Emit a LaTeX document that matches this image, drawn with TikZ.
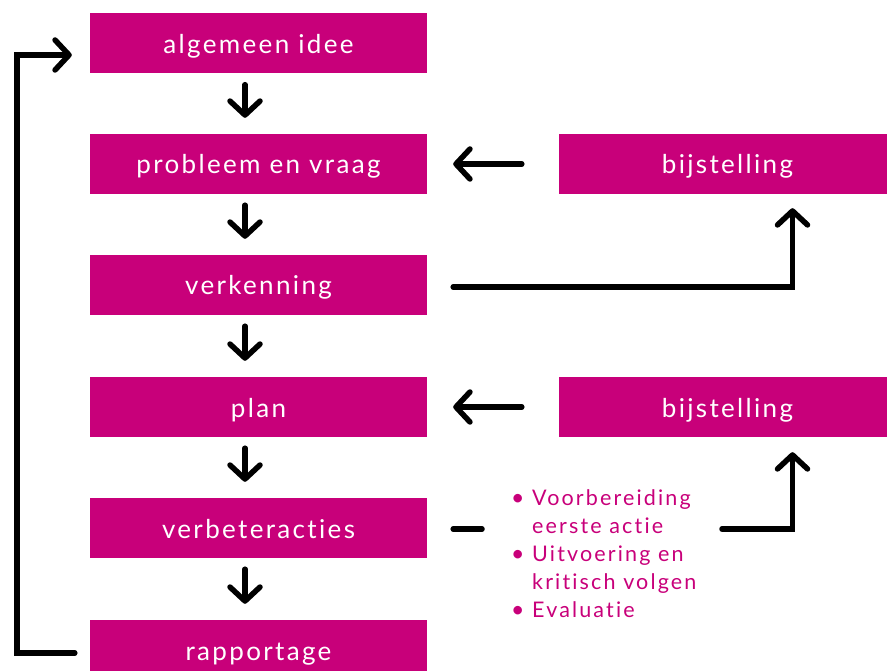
\documentclass[tikz,border=0pt]{standalone}
\usepackage{fontspec}
\setmainfont{Lato}
\newfontfamily\boxfont[LetterSpace=9, Ligatures=NoCommon]{Lato}
\newfontfamily\lijstfont[LetterSpace=10, Ligatures=NoCommon]{Lato}
\usepackage{tikz}
\usetikzlibrary{arrows.meta}
\definecolor{paars}{RGB}{200,0,122}
\tikzset{
    stap/.style={fill=paars, text=white, minimum width=337pt, minimum height=60pt, inner sep=0pt, text height=20pt, text depth=0pt, font=\boxfont\fontsize{26}{30}\selectfont},
    lijn/.style={line width=5.5pt, line cap=round, line join=miter},
    pijl/.style={lijn, -{Straight Barb[length=14pt, width=30pt, round]}},
}
\newcommand{\neer}[2]{\draw[pijl] ([xshift=-13.5pt,yshift=-11pt]#1.south) -- ([xshift=-13.5pt,yshift=16pt]#2.north);}
\newcommand{\punt}{\makebox[21pt][l]{\fontsize{23}{28}\selectfont\textbullet}}

\begin{document}
\begin{tikzpicture}[x=1pt, y=-1pt]
        \useasboundingbox ( 0 , 0 ) rectangle ( 887 , 671 );
        % left column
        \node[stap] (idee) at ( 258.5 , 43.5 ) {algemeen idee};
        \node[stap] (probleem) at ( 258.5 , 164 ) {probleem en vraag};
        \node[stap] (verkenning) at ( 258.5 , 285 ) {verkenning};
        \node[stap] (plan) at ( 258.5 , 407 ) {plan};
        \node[stap] (acties) at ( 258.5 , 528 ) {verbeteracties};
        \node[stap] (rapportage) at ( 258.5 , 650 ) {rapportage};

        % right column
        \node[stap] (bijst1) at ( 727.5 , 164 ) {bijstelling};
        \node[stap] (bijst2) at ( 727.5 , 407 ) {bijstelling};

        % list
        \node[anchor=north west, inner sep=0pt, align=left, text=paars, font=\lijstfont\fontsize{21.5}{28}\selectfont] (lijst) at ( 511 , 489 )
            {\punt Voorbereiding\\ \hspace*{21pt}eerste actie\\ \punt Uitvoering en\\ \hspace*{21pt}kritisch volgen\\ \punt Evaluatie};

        % down
        \neer{idee}{probleem}
        \neer{probleem}{verkenning}
        \neer{verkenning}{plan}
        \neer{plan}{acties}
        \neer{acties}{rapportage}

        % back
        \draw[pijl] ([xshift=-37pt]bijst1.west) -- ([xshift=26pt]probleem.east);
        \draw[pijl] ([xshift=-37pt]bijst2.west) -- ([xshift=26pt]plan.east);

        % up
        \draw[pijl] ([xshift=26pt,yshift=-2pt]verkenning.east) -| ([xshift=65pt,yshift=-14pt]bijst1.south);
        \coordinate (streep) at ( 482 , 529 );
        \coordinate (knik) at ( 722 , 529 );
        \draw[lijn] ([xshift=26pt,yshift=-1pt]acties.east) -- (streep);
        \draw[pijl] (knik) -| ([xshift=65pt,yshift=-15pt]bijst2.south);

        % loop
        \draw[pijl] ([xshift=-15pt,yshift=-3pt]rapportage.west) -- ++( -58 , 0 ) |- ([xshift=-18pt,yshift=-11.5pt]idee.west);
    \end{tikzpicture}
\end{document}
